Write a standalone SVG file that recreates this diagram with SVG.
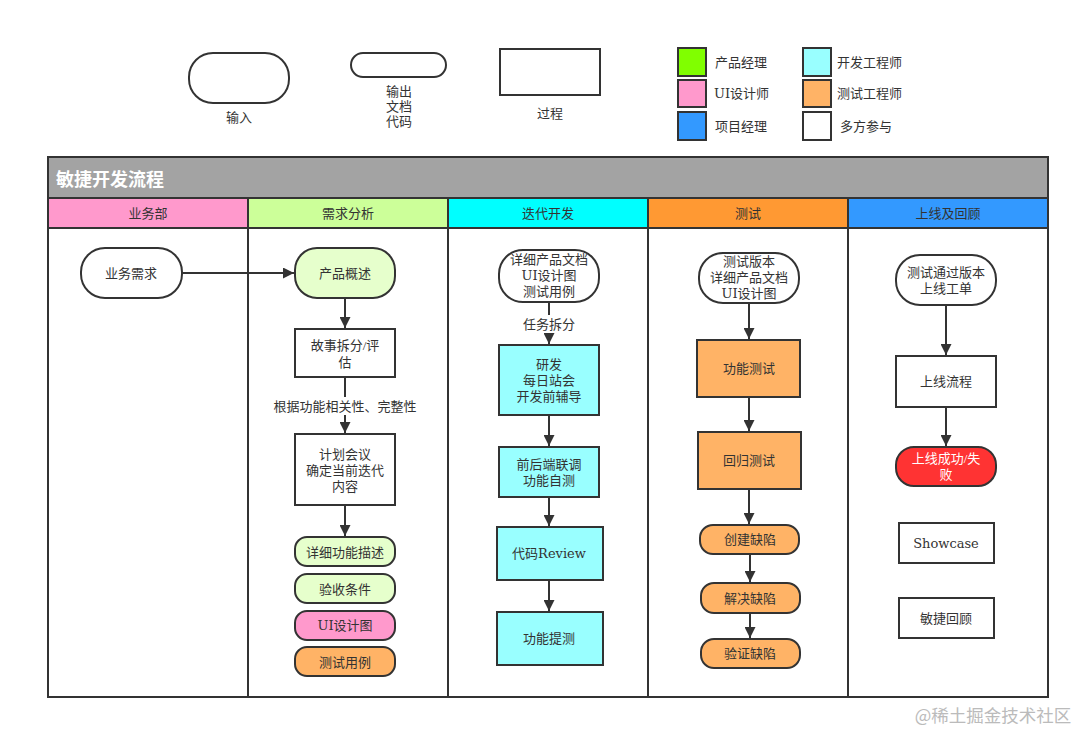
<svg xmlns="http://www.w3.org/2000/svg" width="1080" height="730" viewBox="0 0 1080 730">
<style>
text{font-family:"Liberation Serif","Noto Sans CJK SC",serif;font-size:13px;fill:#333;text-anchor:middle;dominant-baseline:central}
.L{font-family:"DejaVu Serif","Liberation Serif",serif;font-size:13px}
.n{stroke:#333;stroke-width:2}
.w{fill:#fff}
.g{fill:#e6ffcc}
.c{fill:#99ffff}
.o{fill:#ffb366}
.p{fill:#ff99cc}
.lane{fill:#fff;stroke:#333;stroke-width:2}
.hdr{stroke:#333;stroke-width:2}
.e{stroke:#333;stroke-width:2;fill:none}
.ll{text-anchor:start}
</style>
<defs>
<marker id="ah" viewBox="0 0 10 10" refX="10" refY="5" markerWidth="5.5" markerHeight="5.5" orient="auto" markerUnits="strokeWidth">
<path d="M0,0 L10,5 L0,10 z" fill="#333"/>
</marker>
</defs>
<rect width="1080" height="730" fill="#fff"/>

<g id="legend">
<rect class="n w" x="189" y="53" width="100" height="50" rx="24"/>
<text x="239" y="117">输入</text>
<rect class="n w" x="351" y="53" width="95" height="24" rx="12"/>
<text x="399" y="91">输出</text>
<text x="399" y="106">文档</text>
<text x="399" y="121">代码</text>
<rect class="n w" x="500" y="49" width="100" height="46"/>
<text x="550" y="113">过程</text>
<rect class="n" x="678" y="48" width="28" height="28" fill="#80ff00"/>
<text class="ll" x="715" y="62">产品经理</text>
<rect class="n" x="678" y="80" width="28" height="27" fill="#ff99cc"/>
<text class="ll" x="714" y="93"><tspan class="L">UI</tspan>设计师</text>
<rect class="n" x="678" y="112" width="28" height="28" fill="#3399ff"/>
<text class="ll" x="715" y="126">项目经理</text>
<rect class="n" x="803" y="48" width="28" height="28" fill="#99ffff"/>
<text class="ll" x="837" y="62">开发工程师</text>
<rect class="n" x="803" y="80" width="28" height="27" fill="#ffb366"/>
<text class="ll" x="837" y="93">测试工程师</text>
<rect class="n" x="803" y="112" width="28" height="28" fill="#fff"/>
<text class="ll" x="840" y="126">多方参与</text>
</g>

<g id="pool">
<rect x="48" y="157" width="1000" height="41" fill="#a3a3a3" stroke="#333" stroke-width="2"/>
<text class="ll" x="56" y="178" style="fill:#fff;font-size:18px;font-weight:bold;font-family:'Noto Sans CJK SC',sans-serif">敏捷开发流程</text>
</g>
<g id="lane1">
<rect class="lane" x="48" y="198" width="200" height="499"/>
<rect class="hdr" x="48" y="198" width="200" height="30" fill="#ff99cc"/>
<text x="148" y="213">业务部</text>
</g>
<g id="lane2">
<rect class="lane" x="248" y="198" width="200" height="499"/>
<rect class="hdr" x="248" y="198" width="200" height="30" fill="#ccff99"/>
<text x="348" y="213">需求分析</text>
</g>
<g id="lane3">
<rect class="lane" x="448" y="198" width="200" height="499"/>
<rect class="hdr" x="448" y="198" width="200" height="30" fill="#00ffff"/>
<text x="548" y="213">迭代开发</text>
</g>
<g id="lane4">
<rect class="lane" x="648" y="198" width="200" height="499"/>
<rect class="hdr" x="648" y="198" width="200" height="30" fill="#ff9933"/>
<text x="748" y="213">测试</text>
</g>
<g id="lane5">
<rect class="lane" x="848" y="198" width="200" height="499"/>
<rect class="hdr" x="848" y="198" width="200" height="30" fill="#3399ff"/>
<text x="948" y="213">上线及回顾</text>
</g>

<g id="connectors">
<path class="e" d="M182,273 H294" marker-end="url(#ah)"/>
<path class="e" d="M345,298 V328" marker-end="url(#ah)"/>
<path class="e" d="M345,377 V433" marker-end="url(#ah)"/>
<path class="e" d="M345,505 V536" marker-end="url(#ah)"/>
<path class="e" d="M549,302 V344" marker-end="url(#ah)"/>
<path class="e" d="M549,415 V446" marker-end="url(#ah)"/>
<path class="e" d="M549,497 V526" marker-end="url(#ah)"/>
<path class="e" d="M549,580 V611" marker-end="url(#ah)"/>
<path class="e" d="M749,303 V339" marker-end="url(#ah)"/>
<path class="e" d="M749,397 V431" marker-end="url(#ah)"/>
<path class="e" d="M749,489 V524" marker-end="url(#ah)"/>
<path class="e" d="M750,554 V582" marker-end="url(#ah)"/>
<path class="e" d="M750,613 V638" marker-end="url(#ah)"/>
<path class="e" d="M946,305 V355" marker-end="url(#ah)"/>
<path class="e" d="M946,407 V446" marker-end="url(#ah)"/>
<rect x="270" y="397" width="150" height="18" fill="#fff"/>
<text x="345" y="406">根据功能相关性、完整性</text>
<rect x="520" y="315" width="58" height="18" fill="#fff"/>
<text x="549" y="324">任务拆分</text>
</g>

<g id="n-biz"><rect class="n w" x="81" y="248" width="101" height="50" rx="24"/><text x="131" y="273">业务需求</text></g>
<g id="n-overview"><rect class="n g" x="295" y="248" width="100" height="50" rx="22"/><text x="345" y="273">产品概述</text></g>
<g id="n-story"><rect class="n w" x="295" y="329" width="100" height="48"/><text x="345" y="345">故事拆分/评</text><text x="345" y="362">估</text></g>
<g id="n-plan"><rect class="n w" x="295" y="434" width="100" height="71"/><text x="345" y="454">计划会议</text><text x="345" y="470">确定当前迭代</text><text x="345" y="486">内容</text></g>
<g id="n-detail"><rect class="n g" x="295" y="537" width="100" height="29" rx="12"/><text x="345" y="552">详细功能描述</text></g>
<g id="n-accept"><rect class="n g" x="295" y="574" width="100" height="29" rx="12"/><text x="345" y="589">验收条件</text></g>
<g id="n-ui"><rect class="n p" x="295" y="611" width="100" height="29" rx="12"/><text x="345" y="625"><tspan class="L">UI</tspan>设计图</text></g>
<g id="n-case"><rect class="n o" x="295" y="647" width="100" height="29" rx="12"/><text x="345" y="662">测试用例</text></g>

<g id="n-devin"><rect class="n w" x="499" y="250" width="100" height="52" rx="24"/><text x="549" y="259">详细产品文档</text><text x="549" y="275"><tspan class="L">UI</tspan>设计图</text><text x="549" y="291">测试用例</text></g>
<g id="n-dev"><rect class="n c" x="499" y="345" width="100" height="70"/><text x="549" y="364">研发</text><text x="549" y="380">每日站会</text><text x="549" y="396">开发前辅导</text></g>
<g id="n-joint"><rect class="n c" x="499" y="447" width="100" height="50"/><text x="549" y="464">前后端联调</text><text x="549" y="480">功能自测</text></g>
<g id="n-review"><rect class="n c" x="497" y="527" width="106" height="53"/><text x="549" y="553">代码<tspan class="L">Review</tspan></text></g>
<g id="n-submit"><rect class="n c" x="497" y="612" width="106" height="53"/><text x="549" y="638">功能提测</text></g>

<g id="n-testin"><rect class="n w" x="699" y="253" width="100" height="50" rx="24"/><text x="749" y="261">测试版本</text><text x="749" y="277">详细产品文档</text><text x="749" y="293"><tspan class="L">UI</tspan>设计图</text></g>
<g id="n-functest"><rect class="n o" x="697" y="340" width="103" height="57"/><text x="749" y="368">功能测试</text></g>
<g id="n-regress"><rect class="n o" x="698" y="432" width="103" height="57"/><text x="749" y="460">回归测试</text></g>
<g id="n-create"><rect class="n o" x="700" y="525" width="99" height="29" rx="13"/><text x="750" y="539">创建缺陷</text></g>
<g id="n-resolve"><rect class="n o" x="701" y="583" width="99" height="30" rx="13"/><text x="750" y="598">解决缺陷</text></g>
<g id="n-verify"><rect class="n o" x="701" y="639" width="99" height="29" rx="13"/><text x="750" y="653">验证缺陷</text></g>

<g id="n-passin"><rect class="n w" x="896" y="255" width="100" height="50" rx="24"/><text x="946" y="272">测试通过版本</text><text x="946" y="288">上线工单</text></g>
<g id="n-release"><rect class="n w" x="896" y="356" width="100" height="51"/><text x="946" y="381">上线流程</text></g>
<g id="n-result"><rect class="n" x="896" y="447" width="100" height="39" rx="18" fill="#ff3333"/><text x="946" y="458" style="fill:#fff">上线成功/失</text><text x="946" y="474" style="fill:#fff">败</text></g>
<g id="n-showcase"><rect class="n w" x="899" y="523" width="95" height="40"/><text x="946" y="543" class="L">Showcase</text></g>
<g id="n-retro"><rect class="n w" x="899" y="598" width="95" height="40"/><text x="946" y="618">敏捷回顾</text></g>

<text x="993" y="714" style="fill:#bbb;font-size:17.5px;font-family:'Noto Sans CJK SC',sans-serif">@稀土掘金技术社区</text>
</svg>
